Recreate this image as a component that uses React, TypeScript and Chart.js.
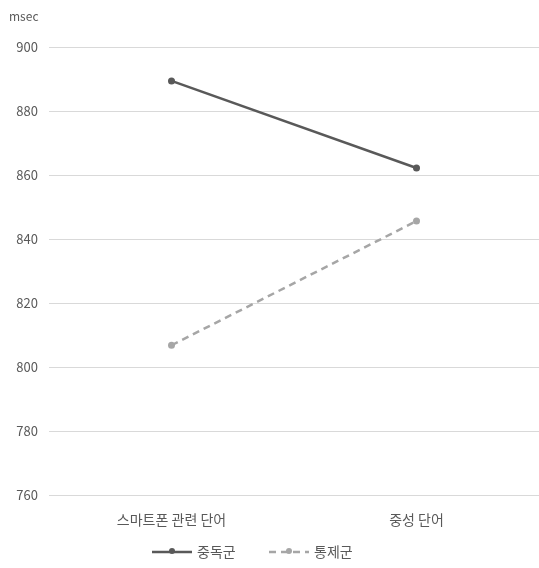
import React, { useEffect, useRef } from "react";
import { Chart, registerables } from "chart.js";

Chart.register(...registerables);

const categories = ["스마트폰 관련 단어", "중성 단어"];
const addictedValues = [889.4, 862.2];
const controlValues = [806.8, 845.6];
const seriesNames = ["중독군", "통제군"];
const yTicks = [760, 780, 800, 820, 840, 860, 880, 900];
const yUnit = "msec";

const TEXT = "#595959";
const FONT = "'Noto Sans CJK KR', 'Noto Sans', sans-serif";

const overlayPlugin = {
  id: "overlay",
  afterDraw(chart: any) {
    const ctx = chart.ctx;
    ctx.save();
    ctx.fillStyle = TEXT;
    ctx.font = `12px ${FONT}`;
    ctx.textBaseline = "middle";
    ctx.textAlign = "left";
    ctx.fillText(yUnit, 9, 16);

    // legend
    const items = [
      { x: 152, ds: chart.data.datasets[0] },
      { x: 269, ds: chart.data.datasets[1] },
    ];
    const y = 552;
    items.forEach((it) => {
      const ds = it.ds;
      ctx.save();
      ctx.strokeStyle = ds.borderColor;
      ctx.lineWidth = ds.borderWidth;
      ctx.setLineDash(ds.borderDash || []);
      ctx.beginPath();
      ctx.moveTo(it.x, y);
      ctx.lineTo(it.x + 40, y);
      ctx.stroke();
      ctx.setLineDash([]);
      ctx.fillStyle = ds.pointBackgroundColor;
      ctx.beginPath();
      ctx.arc(it.x + 20, y - 1, 3, 0, Math.PI * 2);
      ctx.fill();
      ctx.restore();
      ctx.fillStyle = TEXT;
      ctx.font = `14px ${FONT}`;
      ctx.textAlign = "left";
      ctx.textBaseline = "middle";
      ctx.fillText(ds.label, it.x + 45, y);
    });
    ctx.restore();
  },
};

export default function App() {
  const ref = useRef<HTMLCanvasElement | null>(null);
  useEffect(() => {
    if (!ref.current) return;
    const chart = new Chart(ref.current, {
      type: "line",
      data: {
        labels: categories,
        datasets: [
          {
            label: seriesNames[0],
            data: addictedValues,
            borderColor: "#595959",
            backgroundColor: "#595959",
            pointBackgroundColor: "#595959",
            pointBorderColor: "#595959",
            borderWidth: 2.5,
            pointRadius: 3.5,
            pointBorderWidth: 0,
          },
          {
            label: seriesNames[1],
            data: controlValues,
            borderColor: "#a6a6a6",
            backgroundColor: "#a6a6a6",
            pointBackgroundColor: "#a6a6a6",
            pointBorderColor: "#a6a6a6",
            borderWidth: 2.5,
            borderDash: [7, 5],
            pointRadius: 3.5,
            pointBorderWidth: 0,
          },
        ],
      },
      options: {
        animation: false,
        responsive: true,
        maintainAspectRatio: false,
        layout: { autoPadding: false, padding: { top: 47, right: -2, bottom: 0, left: 0 } },
        plugins: {
          legend: { display: false },
          tooltip: { enabled: false },
          title: { display: false },
        },
        scales: {
          x: {
            offset: true,
            grid: { display: false, drawTicks: false },
            border: { display: false },
            ticks: {
              color: TEXT,
              font: { family: FONT, size: 14 },
              padding: 16,
              maxRotation: 0,
            },
            afterFit: (s: any) => {
              s.height = 73;
              s.paddingLeft = 0;
              s.paddingRight = 0;
            },
          },
          y: {
            min: 760,
            max: 900,
            afterBuildTicks: (s: any) => {
              s.ticks = yTicks.map((v) => ({ value: v }));
            },
            grid: { color: "#d9d9d9", lineWidth: 1, drawTicks: false },
            border: { display: false },
            ticks: {
              color: TEXT,
              font: { family: FONT, size: 13 },
              padding: 11,
            },
            afterFit: (s: any) => {
              s.width = 49;
            },
          },
        },
      },
      plugins: [overlayPlugin],
    });
    return () => chart.destroy();
  }, []);
  return (
    <div style={{ position: "fixed", left: 0, top: 0, width: 539, height: 568, background: "#fff" }}>
      <canvas ref={ref} />
    </div>
  );
}
